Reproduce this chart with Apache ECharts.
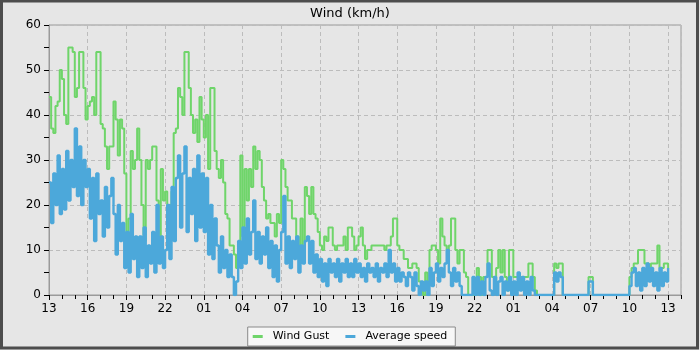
<!DOCTYPE html>
<html>
<head>
<meta charset="utf-8">
<script src="https://cdn.jsdelivr.net/npm/echarts@6/dist/echarts.min.js"></script>
<style>
html,body{margin:0;padding:0;background:#e6e6e6;}
#chart{width:700px;height:350px;}
</style>
</head>
<body>
<div id="chart"></div>
<script>
// Time axis: hours since 13:00 on the first day, one value every 10 minutes
var stepMinutes = 10;
var xTickLabels = ['13','16','19','22','01','04','07','10','13','16','19','22','01','04','07','10','13'];
var seriesNames = ['Wind Gust', 'Average speed'];

var windGust = [
44,37,36,42,43,50,
48,40,38,55,55,54,
44,46,54,54,46,39,
42,43,44,40,54,54,
38,37,33,28,33,33,
43,39,31,39,37,27,
10,17,32,28,30,37,
30,20,12,30,28,30,
33,33,21,12,28,21,
23,15,20,23,36,37,
46,44,40,54,54,46,
40,36,39,34,44,39,
35,40,28,46,46,32,
28,26,30,25,18,17,
11,11,9,6,11,31,
13,28,21,28,24,33,
28,32,30,24,21,17,
18,16,16,13,18,16,
30,28,24,21,21,17,
17,13,11,17,10,24,
22,18,24,18,17,14,
11,10,13,12,15,15,
11,10,11,11,11,13,
10,15,15,13,10,11,
13,15,11,8,10,10,
11,11,11,11,11,11,
10,11,11,13,17,17,
11,10,10,8,8,6,
6,7,7,6,3,1,
0,5,3,10,11,11,
10,7,17,13,11,10,
11,17,17,10,7,10,
10,5,4,0,0,0,
0,6,4,0,4,4,
10,10,4,1,6,10,
5,10,4,1,10,10,
4,4,4,4,4,4,
4,7,7,4,1,0,
0,0,0,0,0,0,
0,7,6,7,7,0,
0,0,0,0,0,0,
0,0,0,0,0,4,
4,0,0,0,0,0,
0,0,0,0,0,0,
0,0,0,0,0,0,
4,6,7,7,10,10,
10,7,7,6,7,7,
7,11,6,6,7,7,
6
];

var averageSpeed = [
25,16,27,20,31,18,
28,19,32,21,30,24,
37,22,33,20,30,24,
28,17,26,12,27,18,
21,13,24,15,22,26,
18,9,20,12,16,6,
14,5,18,8,13,4,
13,6,15,4,11,7,
14,5,20,7,13,6,
10,20,8,24,12,26,
31,15,27,33,14,26,
18,28,12,31,15,27,
14,26,9,20,8,17,
11,5,13,6,10,4,
9,4,0,3,12,6,
15,7,17,9,14,21,
8,14,7,13,9,15,
6,12,4,11,3,10,
14,22,7,13,6,12,
8,13,5,11,7,12,
13,7,12,5,9,4,
8,3,7,2,8,5,
7,4,8,3,7,5,
8,4,7,4,8,5,
7,4,6,3,7,5,
6,4,7,3,6,5,
7,4,10,5,7,3,
6,3,5,4,2,5,
4,1,5,2,0,3,
1,3,0,6,2,5,
7,3,6,4,7,10,
5,2,6,3,5,2,
0,0,0,0,0,4,
0,4,0,3,0,4,
7,1,0,4,0,3,
4,0,3,1,4,0,
3,0,5,1,4,0,
3,0,4,1,0,0,
0,0,0,0,0,0,
0,5,3,5,4,0,
0,0,0,0,0,0,
0,0,0,0,0,3,
3,0,0,0,0,0,
0,0,0,0,0,0,
0,0,0,0,0,0,
2,5,6,2,5,1,
6,2,7,3,6,2,
5,1,6,2,5,3,
6
];

function toPairs(arr) {
  return arr.map(function (v, i) { return [i * stepMinutes / 60, v]; });
}

var FONT = 'DejaVu Sans';
var chart = echarts.init(document.getElementById('chart'), null, {renderer: 'canvas'});
chart.setOption({
  animation: false,
  backgroundColor: '#e6e6e6',
  textStyle: {fontFamily: FONT},
  title: {
    text: 'Wind (km/h)', left: 'center', top: 2,
    textStyle: {fontFamily: FONT, fontSize: 13, fontWeight: 'normal', color: '#000'}
  },
  graphic: [{
    type: 'rect', silent: true, z: 100,
    shape: {x: 1.5, y: 1, width: 696, height: 347},
    style: {fill: 'none', stroke: '#4d4d4d', lineWidth: 3}
  }],
  legend: {
    data: seriesNames,
    top: 327, left: 'center',
    orient: 'horizontal',
    backgroundColor: '#f7f7f7', borderColor: '#8a8a8a', borderWidth: 1, borderRadius: 0,
    padding: [4, 8, 4, 5],
    itemGap: 16, itemWidth: 10, itemHeight: 3, icon: 'rect',
    textStyle: {fontFamily: FONT, fontSize: 11, color: '#000', padding: [0, 0, 0, 5]}
  },
  grid: {
    left: 49, right: 19, top: 25, bottom: 55,
    show: true, borderColor: '#9a9a9a', borderWidth: 1, backgroundColor: 'transparent'
  },
  xAxis: [{
    type: 'value', position: 'bottom', min: 0, max: 49, interval: 1,
    axisLine: {show: true, lineStyle: {color: '#9a9a9a'}},
    axisTick: {show: true, length: 4, lineStyle: {color: '#000'}},
    axisLabel: {show: false},
    splitLine: {show: false}
  }, {
    type: 'value', position: 'bottom', min: 0, max: 49, interval: 3,
    axisLine: {show: false},
    axisTick: {show: true, length: 5, lineStyle: {color: '#000'}},
    axisLabel: {
      show: true, margin: 8, color: '#000', fontFamily: FONT, fontSize: 12,
      showMaxLabel: false,
      formatter: function (v) { var k = Math.round(v / 3); return xTickLabels[k] !== undefined && v % 3 === 0 ? xTickLabels[k] : ''; }
    },
    splitLine: {show: true, lineStyle: {color: '#bcbcbc', type: [4, 3], width: 1}}
  }],
  yAxis: {
    type: 'value', min: 0, max: 60, interval: 10,
    axisLine: {show: true, lineStyle: {color: '#9a9a9a'}},
    axisTick: {show: true, length: 5, lineStyle: {color: '#000'}},
    minorTick: {show: true, splitNumber: 2, length: 5, lineStyle: {color: '#000'}},
    axisLabel: {margin: 8, color: '#000', fontFamily: FONT, fontSize: 12},
    splitLine: {show: true, lineStyle: {color: '#bcbcbc', type: [4, 3], width: 1}}
  },
  series: [{
    name: seriesNames[0], type: 'line', step: 'end', xAxisIndex: 0,
    data: toPairs(windGust), showSymbol: false, symbol: 'none',
    itemStyle: {color: '#6fd56a'},
    lineStyle: {color: '#6fd56a', width: 2}, z: 3
  }, {
    name: seriesNames[1], type: 'line', step: 'end', xAxisIndex: 0,
    data: toPairs(averageSpeed), showSymbol: false, symbol: 'none',
    itemStyle: {color: '#4ca8da'},
    lineStyle: {color: '#4ca8da', width: 2.4}, z: 4
  }]
});
</script>
</body>
</html>
